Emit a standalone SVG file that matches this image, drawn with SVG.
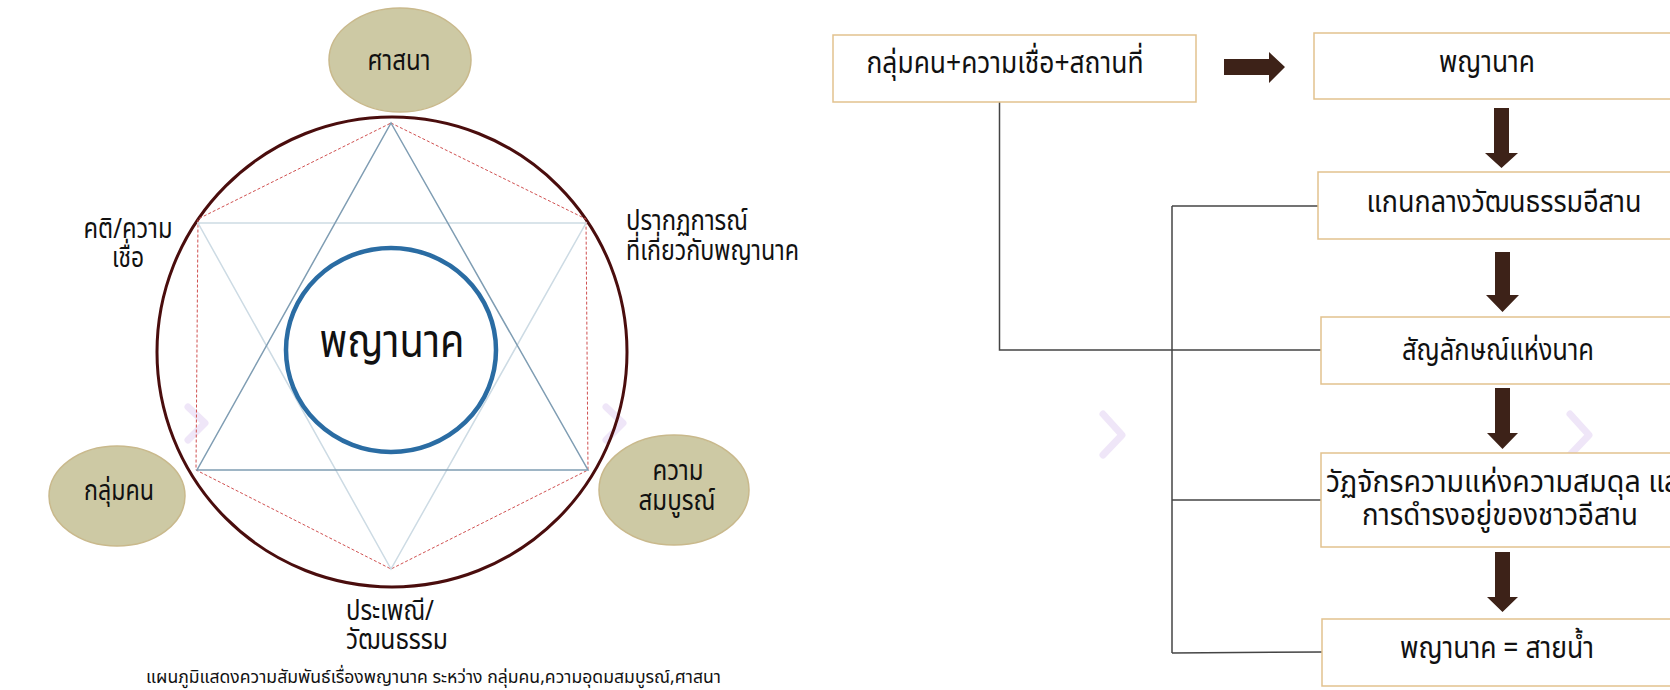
<svg xmlns="http://www.w3.org/2000/svg" width="1670" height="690" viewBox="0 0 1670 690">
<style>
.t{font-family:"Noto Sans Thai","Noto Sans","DejaVu Sans",sans-serif;fill:#111;}
.olive{fill:#cdc9a4;stroke:#c9b98c;stroke-width:1.5;}
.box{fill:#fff;stroke:#e2c28e;stroke-width:1.5;}
.conn{fill:none;stroke:#444;stroke-width:1.5;}
.arr{fill:#3d2218;}
.chev{fill:none;stroke:#efe6f8;stroke-width:7;stroke-linecap:round;stroke-linejoin:round;}
</style>
<rect width="1670" height="690" fill="#fff"/>
<g id="decor">
<polyline class="chev" points="188,407 205,423 188,440"/>
<polyline class="chev" points="606,407 623,423 606,440"/>
<polyline class="chev" points="1103,414 1122,435 1103,455"/>
<polyline class="chev" points="1570,414 1589,435 1570,455"/>
</g>
<g id="outer-circle"><circle cx="392" cy="352" r="235" fill="none" stroke="#4a0d0d" stroke-width="3"/></g>
<g id="hexagon"><polygon points="391,123 586,219 588,470 391,569 196,470 198,219" fill="none" stroke="#d05050" stroke-width="1" stroke-dasharray="3,2"/></g>
<g id="tri-down"><polygon points="198,223 586,223 391,569" fill="none" stroke="#cddbe4" stroke-width="1.5"/></g>
<g id="tri-up"><polygon points="391,123 588,470 197,470" fill="none" stroke="#7f9db3" stroke-width="1.5"/></g>
<g id="center">
<ellipse cx="391" cy="350" rx="105" ry="102" fill="#fff" stroke="#2a6ca3" stroke-width="4.5"/>
<text class="t" x="392" y="357" font-size="46" text-anchor="middle" textLength="145" lengthAdjust="spacingAndGlyphs">พญานาค</text>
</g>
<g id="n-religion">
<ellipse class="olive" cx="400" cy="60" rx="71" ry="52"/>
<text class="t" x="399" y="70" font-size="28" text-anchor="middle" textLength="63" lengthAdjust="spacingAndGlyphs">ศาสนา</text>
</g>
<g id="n-people">
<ellipse class="olive" cx="117" cy="496" rx="68" ry="50"/>
<text class="t" x="119" y="500" font-size="28" text-anchor="middle" textLength="70" lengthAdjust="spacingAndGlyphs">กลุ่มคน</text>
</g>
<g id="n-abundance">
<ellipse class="olive" cx="674" cy="490" rx="75" ry="55"/>
<text class="t" x="678" y="480" font-size="28" text-anchor="middle" textLength="51" lengthAdjust="spacingAndGlyphs">ความ</text>
<text class="t" x="677" y="510" font-size="28" text-anchor="middle" textLength="77" lengthAdjust="spacingAndGlyphs">สมบูรณ์</text>
</g>
<g id="l-belief">
<text class="t" x="128" y="238" font-size="28" text-anchor="middle" textLength="89" lengthAdjust="spacingAndGlyphs">คติ/ความ</text>
<text class="t" x="128" y="267" font-size="28" text-anchor="middle" textLength="32" lengthAdjust="spacingAndGlyphs">เชื่อ</text>
</g>
<g id="l-phenomena">
<text class="t" x="626" y="230" font-size="28" textLength="122" lengthAdjust="spacingAndGlyphs">ปรากฏการณ์</text>
<text class="t" x="626" y="260" font-size="28" textLength="173" lengthAdjust="spacingAndGlyphs">ที่เกี่ยวกับพญานาค</text>
</g>
<g id="l-tradition">
<text class="t" x="346" y="620" font-size="28" textLength="88" lengthAdjust="spacingAndGlyphs">ประเพณี/</text>
<text class="t" x="346" y="649" font-size="28" textLength="102" lengthAdjust="spacingAndGlyphs">วัฒนธรรม</text>
</g>
<g id="caption">
<text class="t" x="146" y="683" font-size="18" textLength="575" lengthAdjust="spacingAndGlyphs">แผนภูมิแสดงความสัมพันธ์เรื่องพญานาค ระหว่าง กลุ่มคน,ความอุดมสมบูรณ์,ศาสนา</text>
</g>
<g id="connectors">
<polyline class="conn" points="999.5,102 999.5,350 1321,350"/>
<line class="conn" x1="1172" y1="206" x2="1172" y2="653"/>
<line class="conn" x1="1172" y1="206" x2="1318" y2="206"/>
<line class="conn" x1="1172" y1="500" x2="1321" y2="500"/>
<line class="conn" x1="1172" y1="653" x2="1322" y2="652"/>
<polygon class="arr" points="1224,59 1269,59 1269,52 1285,67 1269,83 1269,75 1224,75"/>
<polygon class="arr" points="1494,108 1509,108 1509,153 1518,153 1501.5,168 1485,153 1494,153"/>
<polygon class="arr" points="1495,252 1510,252 1510,295 1519,295 1502.5,312 1486,295 1495,295"/>
<polygon class="arr" points="1495,388 1510,388 1510,433 1518,433 1502.5,449 1487,433 1495,433"/>
<polygon class="arr" points="1495,552 1510,552 1510,597 1518,597 1502.5,612 1487,597 1495,597"/>
</g>
<g id="b-origin">
<rect class="box" x="833" y="35" width="363" height="67"/>
<text class="t" x="1005" y="73" font-size="30" text-anchor="middle" textLength="277" lengthAdjust="spacingAndGlyphs">กลุ่มคน+ความเชื่อ+สถานที่</text>
</g>
<g id="b-naga">
<rect class="box" x="1314" y="33" width="370" height="66"/>
<text class="t" x="1487" y="72" font-size="30" text-anchor="middle" textLength="96" lengthAdjust="spacingAndGlyphs">พญานาค</text>
</g>
<g id="b-core">
<rect class="box" x="1318" y="172" width="370" height="67"/>
<text class="t" x="1504" y="212" font-size="30" text-anchor="middle" textLength="275" lengthAdjust="spacingAndGlyphs">แกนกลางวัฒนธรรมอีสาน</text>
</g>
<g id="b-symbol">
<rect class="box" x="1321" y="317" width="370" height="67"/>
<text class="t" x="1498" y="360" font-size="30" text-anchor="middle" textLength="192" lengthAdjust="spacingAndGlyphs">สัญลักษณ์แห่งนาค</text>
</g>
<g id="b-cycle">
<rect class="box" x="1321" y="453" width="370" height="94"/>
<text class="t" x="1326" y="492" font-size="30" textLength="364" lengthAdjust="spacingAndGlyphs">วัฏจักรความแห่งความสมดุล และ</text>
<text class="t" x="1500" y="525" font-size="30" text-anchor="middle" textLength="276" lengthAdjust="spacingAndGlyphs">การดำรงอยู่ของชาวอีสาน</text>
</g>
<g id="b-river">
<rect class="box" x="1322" y="619" width="370" height="67"/>
<text class="t" x="1497" y="658" font-size="30" text-anchor="middle" textLength="194" lengthAdjust="spacingAndGlyphs">พญานาค = สายน้ำ</text>
</g>
</svg>
